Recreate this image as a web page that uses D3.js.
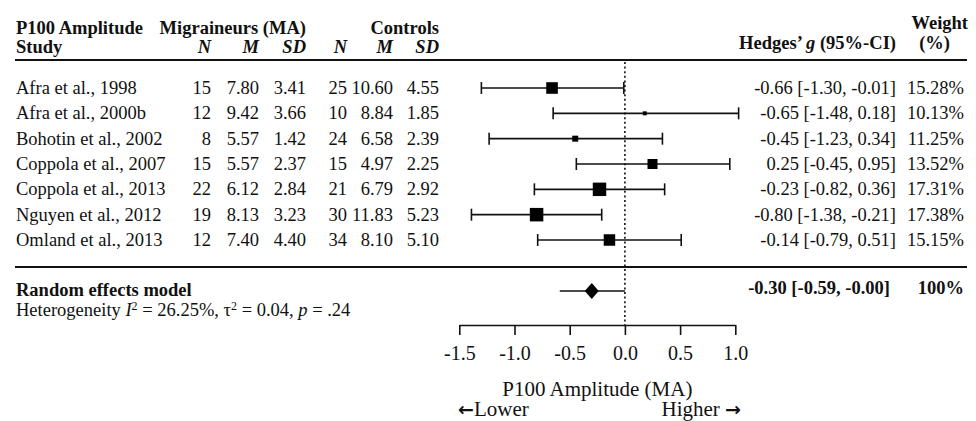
<!DOCTYPE html>
<html>
<head>
<meta charset="utf-8">
<script src="https://cdn.jsdelivr.net/npm/d3@7"></script>
<style>
  body { margin: 0; background: #fff; }
  svg text { font-family: "Liberation Serif", "Times New Roman", serif; fill: #111; }
</style>
</head>
<body>
<div id="chart"></div>
<script>
// data
var studies = ["Afra et al., 1998", "Afra et al., 2000b", "Bohotin et al., 2002", "Coppola et al., 2007",
               "Coppola et al., 2013", "Nguyen et al., 2012", "Omland et al., 2013"];
var maN  = [15, 12, 8, 15, 22, 19, 12];
var maM  = [7.80, 9.42, 5.57, 5.57, 6.12, 8.13, 7.40];
var maSD = [3.41, 3.66, 1.42, 2.37, 2.84, 3.23, 4.40];
var coN  = [25, 10, 24, 15, 21, 30, 34];
var coM  = [10.60, 8.84, 6.58, 4.97, 6.79, 11.83, 8.10];
var coSD = [4.55, 1.85, 2.39, 2.25, 2.92, 5.23, 5.10];
// printed effect sizes
var hedgesG  = [-0.66, -0.65, -0.45, 0.25, -0.23, -0.80, -0.14];
var ciLower  = [-1.30, -1.48, -1.23, -0.45, -0.82, -1.38, -0.79];
var ciUpper  = [-0.01, 0.18, 0.34, 0.95, 0.36, -0.21, 0.51];
var weights  = [15.28, 10.13, 11.25, 13.52, 17.31, 17.38, 15.15];
// marker positions as drawn (row 2 is drawn shifted in the original)
var plotEst  = [-0.66, 0.18, -0.45, 0.25, -0.23, -0.80, -0.14];
var plotLo   = [-1.30, -0.65, -1.23, -0.44, -0.82, -1.39, -0.79];
var plotHi   = [-0.01, 1.03, 0.34, 0.95, 0.36, -0.21, 0.51];
// random effects model
var summaryG = -0.30, summaryLo = -0.59, summaryHi = -0.00;
var hetI2 = "26.25%", hetTau2 = "0.04", hetP = ".24";
var axisTicks = [-1.5, -1.0, -0.5, 0.0, 0.5, 1.0];

var width = 976, height = 421;
var svg = d3.select("#chart").append("svg")
  .attr("width", width).attr("height", height);
svg.append("rect").attr("width", width).attr("height", height).attr("fill", "#fff");

var x = d3.scaleLinear().domain([-1.5, 1.0]).range([459.3, 735.3]);
var y = d3.scalePoint().domain(studies).range([88, 240]);
var boxSize = d3.scaleLinear().domain([10.13, 13.5, 17.38]).range([4, 10, 13.5]);

function fmt(v) {
  var neg = v < 0 || Object.is(v, -0);
  return (neg ? "-" : "") + Math.abs(v).toFixed(2);
}

var fs = 18.5, left = 16;
var colX = [211, 259, 306, 347, 393, 439];
var ciX = 896, wX = 964;

// header
var hdr = svg.append("g").attr("font-size", fs).attr("font-weight", "bold");
hdr.append("text").attr("x", left).attr("y", 34).text("P100 Amplitude");
hdr.append("text").attr("x", 306).attr("y", 34).attr("text-anchor", "end").text("Migraineurs (MA)");
hdr.append("text").attr("x", 439).attr("y", 34).attr("text-anchor", "end").text("Controls");
hdr.append("text").attr("x", left).attr("y", 53).text("Study");
["N", "M", "SD", "N", "M", "SD"].forEach(function(h, i) {
  hdr.append("text").attr("x", colX[i]).attr("y", 53).attr("text-anchor", "end")
    .attr("font-style", "italic").text(h);
});
hdr.append("text").attr("x", wX + 4).attr("y", 29).attr("text-anchor", "end").text("Weight");
hdr.append("text").attr("x", wX - 14).attr("y", 49).attr("text-anchor", "end").text("(%)");
var hg = hdr.append("text").attr("x", ciX).attr("y", 49).attr("text-anchor", "end");
hg.append("tspan").text("Hedges\u2019 ");
hg.append("tspan").attr("font-style", "italic").text("g");
hg.append("tspan").text(" (95%-CI)");

svg.append("line").attr("x1", 15).attr("x2", 967).attr("y1", 60).attr("y2", 60)
  .attr("stroke", "#111").attr("stroke-width", 2);
svg.append("line").attr("x1", 15).attr("x2", 967).attr("y1", 267).attr("y2", 267)
  .attr("stroke", "#111").attr("stroke-width", 2);

// null line
svg.append("line").attr("x1", x(0)).attr("x2", x(0)).attr("y1", 62).attr("y2", 325)
  .attr("stroke", "#111").attr("stroke-width", 1.6).attr("stroke-dasharray", "2,2.6");

// study rows
var rows = svg.selectAll("g.row").data(studies).enter().append("g").attr("class", "row")
  .attr("font-size", fs);
rows.append("text").attr("x", left).attr("y", function(d) { return y(d) + 6; }).text(function(d) { return d; });
[maN, maM, maSD, coN, coM, coSD].forEach(function(arr, c) {
  rows.append("text").attr("x", colX[c]).attr("y", function(d) { return y(d) + 6; })
    .attr("text-anchor", "end")
    .text(function(d, i) { return c % 3 === 0 ? arr[i] : arr[i].toFixed(2); });
});
rows.append("text").attr("x", ciX).attr("y", function(d) { return y(d) + 6; }).attr("text-anchor", "end")
  .text(function(d, i) { return fmt(hedgesG[i]) + " [" + fmt(ciLower[i]) + ", " + fmt(ciUpper[i]) + "]"; });
rows.append("text").attr("x", wX).attr("y", function(d) { return y(d) + 6; }).attr("text-anchor", "end")
  .text(function(d, i) { return weights[i].toFixed(2) + "%"; });

// whiskers
rows.append("line").attr("x1", function(d, i) { return x(plotLo[i]); }).attr("x2", function(d, i) { return x(plotHi[i]); })
  .attr("y1", function(d) { return y(d); }).attr("y2", function(d) { return y(d); })
  .attr("stroke", "#111").attr("stroke-width", 1.6);
[plotLo, plotHi].forEach(function(arr) {
  rows.append("line").attr("x1", function(d, i) { return x(arr[i]); }).attr("x2", function(d, i) { return x(arr[i]); })
    .attr("y1", function(d) { return y(d) - 6; }).attr("y2", function(d) { return y(d) + 6; })
    .attr("stroke", "#111").attr("stroke-width", 1.6);
});
rows.append("rect")
  .attr("x", function(d, i) { return x(plotEst[i]) - boxSize(weights[i]) / 2; })
  .attr("y", function(d, i) { return y(d) - boxSize(weights[i]) / 2; })
  .attr("width", function(d, i) { return boxSize(weights[i]); })
  .attr("height", function(d, i) { return boxSize(weights[i]); })
  .attr("fill", "#000");

// summary
var sy = 291;
svg.append("line").attr("x1", x(summaryLo)).attr("x2", x(summaryHi)).attr("y1", sy).attr("y2", sy)
  .attr("stroke", "#111").attr("stroke-width", 1.6);
svg.append("path")
  .attr("d", "M" + (x(summaryG) - 7) + "," + sy + "L" + x(summaryG) + "," + (sy - 8) +
             "L" + (x(summaryG) + 7) + "," + sy + "L" + x(summaryG) + "," + (sy + 8) + "Z")
  .attr("fill", "#000");
svg.append("text").attr("x", left).attr("y", 296).attr("font-size", fs).attr("font-weight", "bold")
  .text("Random effects model");
svg.append("text").attr("x", ciX - 6).attr("y", 294).attr("font-size", fs).attr("font-weight", "bold")
  .attr("text-anchor", "end")
  .text(fmt(summaryG) + " [" + fmt(summaryLo) + ", " + fmt(summaryHi) + "]");
svg.append("text").attr("x", wX).attr("y", 294).attr("font-size", fs).attr("font-weight", "bold")
  .attr("text-anchor", "end").text("100%");

var het = svg.append("text").attr("x", left).attr("y", 316).attr("font-size", fs);
het.append("tspan").text("Heterogeneity ");
het.append("tspan").attr("font-style", "italic").text("I");
het.append("tspan").attr("font-size", 12).attr("dy", -6).text("2");
het.append("tspan").attr("dy", 6).text(" = " + hetI2 + ", \u03C4");
het.append("tspan").attr("font-size", 12).attr("dy", -6).text("2");
het.append("tspan").attr("dy", 6).text(" = " + hetTau2 + ", ");
het.append("tspan").attr("font-style", "italic").text("p");
het.append("tspan").text(" = " + hetP);

// x axis
var axis = d3.axisBottom(x).tickValues(axisTicks).tickSize(10).tickSizeOuter(0)
  .tickFormat(function(d) { return d < 0 ? "-" + Math.abs(d).toFixed(1) : d.toFixed(1); });
var ax = svg.append("g").attr("transform", "translate(0,325)").call(axis);
ax.select(".domain").attr("stroke", "#111").attr("stroke-width", 1.6);
ax.selectAll(".tick line").attr("stroke", "#111").attr("stroke-width", 1.6);
ax.selectAll(".tick text").attr("font-size", 20).attr("font-family", "Liberation Serif")
  .attr("fill", "#111").attr("y", 21).attr("dy", "0.71em");

svg.append("text").attr("x", (x.range()[0] + x.range()[1]) / 2).attr("y", 396)
  .attr("text-anchor", "middle").attr("font-size", 21).text("P100 Amplitude (MA)");
var lo = svg.append("text").attr("x", 458).attr("y", 416).attr("font-size", 21);
lo.append("tspan").attr("font-family", "DejaVu Sans").attr("font-weight", "bold").attr("font-size", 19).text("\u2190");
lo.append("tspan").text("Lower");
var hi = svg.append("text").attr("x", 741).attr("y", 416).attr("text-anchor", "end").attr("font-size", 21);
hi.append("tspan").text("Higher ");
hi.append("tspan").attr("font-family", "DejaVu Sans").attr("font-weight", "bold").attr("font-size", 19).text("\u2192");
</script>
</body>
</html>
